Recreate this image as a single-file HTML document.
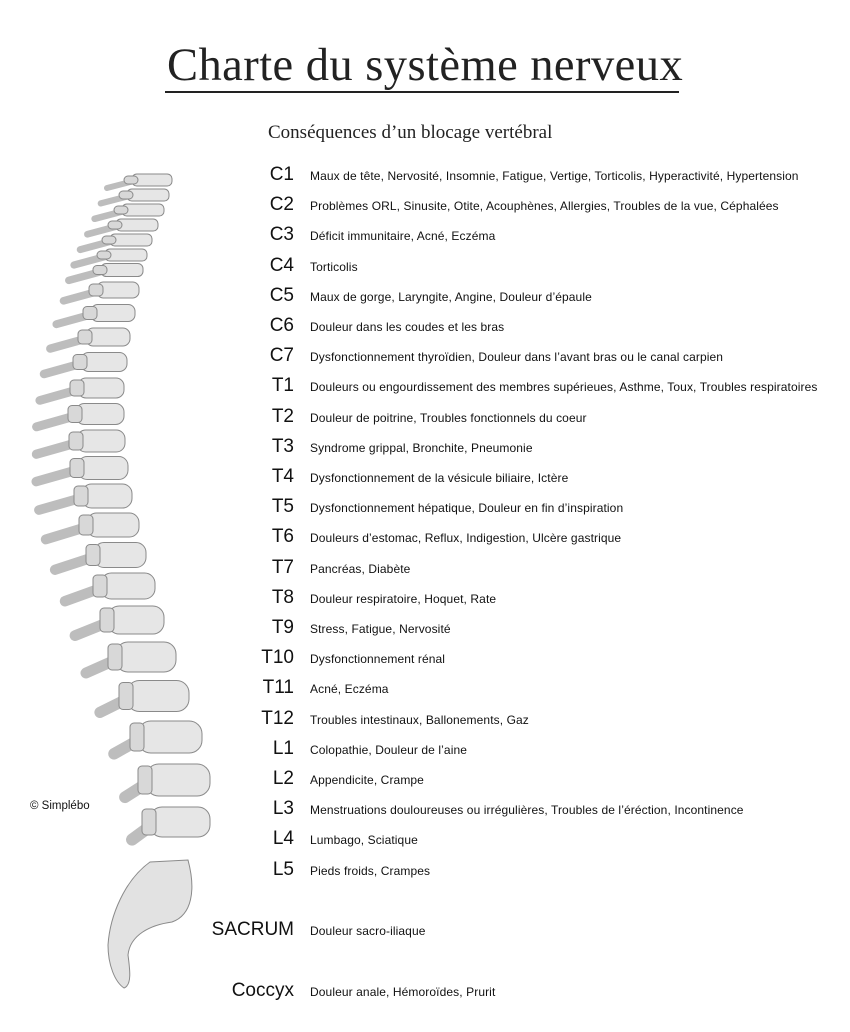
<!DOCTYPE html>
<html><head><meta charset="utf-8"><style>
body{margin:0;width:850px;height:1032px;background:#fff;position:relative;overflow:hidden;font-family:"Liberation Sans",sans-serif;color:#111}
.t{position:absolute;left:167px;top:39px;font-family:"Liberation Serif",serif;font-size:46.5px;color:#222;white-space:nowrap;letter-spacing:0.45px}
.ul{position:absolute;left:165px;top:91px;width:514px;height:2px;background:#222}
.sub{position:absolute;left:268px;top:122px;font-family:"Liberation Serif",serif;font-size:19px;color:#222}
.r{position:absolute;left:0;height:30px;width:850px}
.k{position:absolute;right:556px;font-size:19px;top:0;line-height:30px;white-space:nowrap}
.d{position:absolute;left:310px;font-size:12px;line-height:30px;top:1px;white-space:nowrap;letter-spacing:0.1px}
.c{position:absolute;left:30px;top:800px;font-size:11.5px}
svg{position:absolute;left:0;top:0}
</style></head><body>
<div class="t">Charte du système nerveux</div><div class="ul"></div>
<div class="sub">Conséquences d’un blocage vertébral</div>
<svg width="850" height="1032">
<g fill="#e2e2e2" stroke="#8a8a8a" stroke-width="1">
<path d="M150 862 C125 880 110 915 108 945 C108 965 115 982 124 988 C132 985 130 970 128 955 C130 935 150 925 172 922 C192 915 196 890 188 860 Z"/>
</g>
<g stroke="#bdbdbd" stroke-linecap="round" fill="none" id="proc"></g>
<g fill="#e6e6e6" stroke="#8a8a8a" stroke-width="1" id="bod"></g>
</svg>
<script>
var V=[[180,152,40,12],[195,148,42,12],[210,143,42,12],[225,137,42,12],[240,131,42,12],[255,126,42,12],[270,122,42,13],[290,118,42,16],[313,113,44,17],[337,108,44,18],[362,104,46,19],[388,101,46,20],[414,100,48,21],[441,101,48,22],[468,103,50,23],[496,107,50,24],[525,113,52,24],[555,120,52,25],[586,128,54,26],[620,136,56,28],[657,146,60,30],[696,158,62,31],[737,170,64,32],[780,178,64,32],[822,180,60,30]];
var p='',b='';
V.forEach(function(v,i){var y=v[0],x=v[1],w=v[2],h=v[3];
var L=x-w/2, dx=Math.min(45,25+i*1.2);
p+='<line x1="'+(L+6)+'" y1="'+y+'" x2="'+(L-dx+Math.max(0,i-15)*3)+'" y2="'+(y+8+i*0.4)+'" stroke-width="'+(6+i*0.25)+'"/>';
b+='<rect x="'+L+'" y="'+(y-h/2)+'" width="'+w+'" height="'+h+'" rx="'+(h/2.5)+'"/>';
b+='<rect x="'+(L-8)+'" y="'+(y-h/2+2)+'" width="14" height="'+(h-4)+'" rx="4" fill="#d8d8d8"/>';});
document.getElementById('proc').innerHTML=p;document.getElementById('bod').innerHTML=b;
</script>
<div class="c">© Simplébo</div>
<div id="rows"></div>
<script>
var R=[["C1","Maux de tête, Nervosité, Insomnie, Fatigue, Vertige, Torticolis, Hyperactivité, Hypertension"],["C2","Problèmes ORL, Sinusite, Otite, Acouphènes, Allergies, Troubles de la vue, Céphalées"],["C3","Déficit immunitaire, Acné, Eczéma"],["C4","Torticolis"],["C5","Maux de gorge, Laryngite, Angine, Douleur d’épaule"],["C6","Douleur dans les coudes et les bras"],["C7","Dysfonctionnement thyroïdien, Douleur dans l’avant bras ou le canal carpien"],["T1","Douleurs ou engourdissement des membres supérieues, Asthme, Toux, Troubles respiratoires"],["T2","Douleur de poitrine, Troubles fonctionnels du coeur"],["T3","Syndrome grippal, Bronchite, Pneumonie"],["T4","Dysfonctionnement de la vésicule biliaire, Ictère"],["T5","Dysfonctionnement hépatique, Douleur en fin d’inspiration"],["T6","Douleurs d’estomac, Reflux, Indigestion, Ulcère gastrique"],["T7","Pancréas, Diabète"],["T8","Douleur respiratoire, Hoquet, Rate"],["T9","Stress, Fatigue, Nervosité"],["T10","Dysfonctionnement rénal"],["T11","Acné, Eczéma"],["T12","Troubles intestinaux, Ballonements, Gaz"],["L1","Colopathie, Douleur de l’aine"],["L2","Appendicite, Crampe"],["L3","Menstruations douloureuses ou irrégulières, Troubles de l’éréction, Incontinence"],["L4","Lumbago, Sciatique"],["L5","Pieds froids, Crampes"]];
var h='';R.forEach(function(r,i){h+='<div class="r" style="top:'+(160+i*30.2)+'px"><span class="k">'+r[0]+'</span><span class="d">'+r[1]+'</span></div>';});
h+='<div class="r" style="top:915px"><span class="k">SACRUM</span><span class="d">Douleur sacro-iliaque</span></div>';
h+='<div class="r" style="top:976px"><span class="k">Coccyx</span><span class="d">Douleur anale, Hémoroïdes, Prurit</span></div>';
document.getElementById('rows').innerHTML=h;
</script>
</body></html>
